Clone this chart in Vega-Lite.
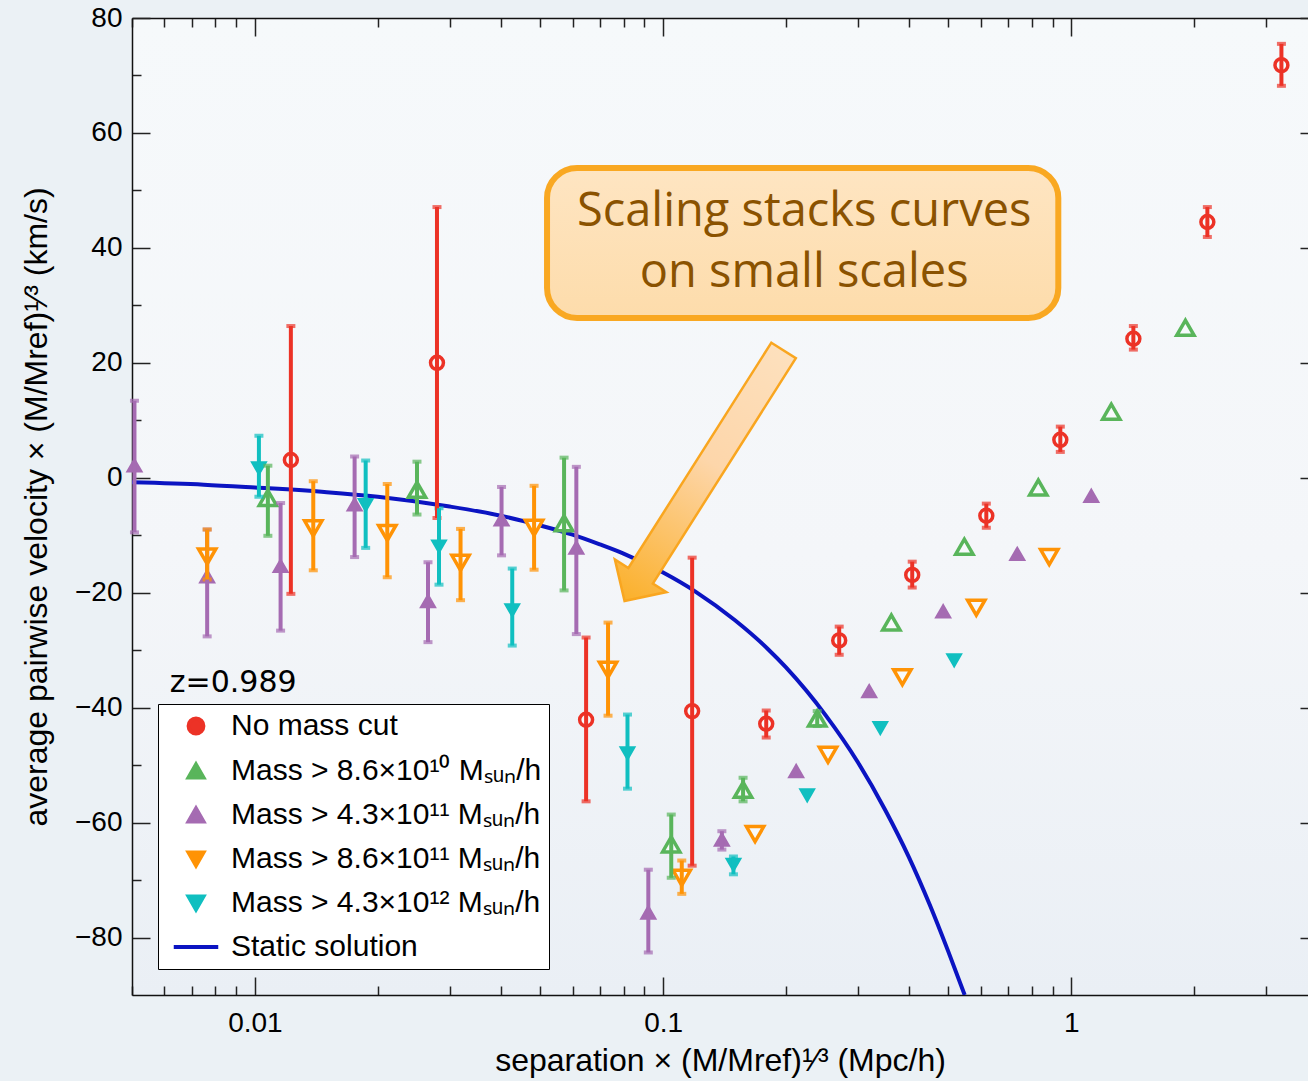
{
  "$schema": "https://vega.github.io/schema/vega-lite/v6.json",
  "width": 1176,
  "height": 977,
  "autosize": {"type": "none"},
  "padding": {"left": 132, "top": 18, "right": 0, "bottom": 86},
  "background": "#ebf1f5",
  "config": {
    "view": {"stroke": null, "fill": {"gradient": "linear", "x1": 0, "y1": 0, "x2": 0, "y2": 1,
      "stops": [{"offset": 0, "color": "#f6f9fb"}, {"offset": 0.55, "color": "#f4f6f9"}, {"offset": 1, "color": "#eaeff5"}]}},
    "font": "Liberation Sans",
    "axis": {"labelFont": "Liberation Sans", "titleFont": "Liberation Sans", "grid": false}
  },
  "datasets": {
    "pts": [
      {"series": "No mass cut", "r": 0.01225, "v": 3.1, "lo": -20.2, "hi": 26.4},
      {"series": "No mass cut", "r": 0.02793, "v": 20.0, "lo": -7.0, "hi": 47.1},
      {"series": "No mass cut", "r": 0.06477, "v": -42.1, "lo": -56.3, "hi": -27.8},
      {"series": "No mass cut", "r": 0.1178, "v": -40.6, "lo": -67.5, "hi": -13.9},
      {"series": "No mass cut", "r": 0.1789, "v": -42.8, "lo": -45.2, "hi": -40.5},
      {"series": "No mass cut", "r": 0.27, "v": -28.3, "lo": -30.8, "hi": -25.9},
      {"series": "No mass cut", "r": 0.4076, "v": -16.9, "lo": -19.1, "hi": -14.6},
      {"series": "No mass cut", "r": 0.6191, "v": -6.6, "lo": -8.7, "hi": -4.5},
      {"series": "No mass cut", "r": 0.9398, "v": 6.6, "lo": 4.5, "hi": 8.9},
      {"series": "No mass cut", "r": 1.419, "v": 24.2, "lo": 22.3, "hi": 26.4},
      {"series": "No mass cut", "r": 2.154, "v": 44.5, "lo": 41.9, "hi": 47.1},
      {"series": "No mass cut", "r": 3.271, "v": 71.8, "lo": 68.2, "hi": 75.5},
      {"series": "Mass > 8.6×10¹⁰ Mₛᵤₙ/h", "r": 0.01076, "v": -3.5, "lo": -10.1, "hi": 2.1},
      {"series": "Mass > 8.6×10¹⁰ Mₛᵤₙ/h", "r": 0.02495, "v": -2.1, "lo": -6.4, "hi": 2.8},
      {"series": "Mass > 8.6×10¹⁰ Mₛᵤₙ/h", "r": 0.0572, "v": -7.9, "lo": -19.6, "hi": 3.5},
      {"series": "Mass > 8.6×10¹⁰ Mₛᵤₙ/h", "r": 0.1047, "v": -63.8, "lo": -69.6, "hi": -58.6},
      {"series": "Mass > 8.6×10¹⁰ Mₛᵤₙ/h", "r": 0.157, "v": -54.3, "lo": -56.3, "hi": -52.2},
      {"series": "Mass > 8.6×10¹⁰ Mₛᵤₙ/h", "r": 0.2385, "v": -41.9, "lo": -43.2, "hi": -40.6},
      {"series": "Mass > 8.6×10¹⁰ Mₛᵤₙ/h", "r": 0.3623, "v": -25.2},
      {"series": "Mass > 8.6×10¹⁰ Mₛᵤₙ/h", "r": 0.547, "v": -12.0},
      {"series": "Mass > 8.6×10¹⁰ Mₛᵤₙ/h", "r": 0.83, "v": -1.7},
      {"series": "Mass > 8.6×10¹⁰ Mₛᵤₙ/h", "r": 1.253, "v": 11.5},
      {"series": "Mass > 8.6×10¹⁰ Mₛᵤₙ/h", "r": 1.903, "v": 26.1},
      {"series": "Mass > 4.3×10¹¹ Mₛᵤₙ/h", "r": 0.00507, "v": 2.1, "lo": -9.5, "hi": 13.4},
      {"series": "Mass > 4.3×10¹¹ Mₛᵤₙ/h", "r": 0.00764, "v": -17.2, "lo": -27.6, "hi": -9.0},
      {"series": "Mass > 4.3×10¹¹ Mₛᵤₙ/h", "r": 0.01156, "v": -15.4, "lo": -26.6, "hi": -4.4},
      {"series": "Mass > 4.3×10¹¹ Mₛᵤₙ/h", "r": 0.01755, "v": -4.7, "lo": -13.8, "hi": 3.7},
      {"series": "Mass > 4.3×10¹¹ Mₛᵤₙ/h", "r": 0.02655, "v": -21.5, "lo": -28.6, "hi": -14.7},
      {"series": "Mass > 4.3×10¹¹ Mₛᵤₙ/h", "r": 0.0402, "v": -7.3, "lo": -13.5, "hi": -1.6},
      {"series": "Mass > 4.3×10¹¹ Mₛᵤₙ/h", "r": 0.0613, "v": -12.2, "lo": -27.2, "hi": 1.9},
      {"series": "Mass > 4.3×10¹¹ Mₛᵤₙ/h", "r": 0.092, "v": -75.7, "lo": -82.6, "hi": -68.2},
      {"series": "Mass > 4.3×10¹¹ Mₛᵤₙ/h", "r": 0.1393, "v": -63.0, "lo": -64.7, "hi": -61.5},
      {"series": "Mass > 4.3×10¹¹ Mₛᵤₙ/h", "r": 0.2118, "v": -51.1},
      {"series": "Mass > 4.3×10¹¹ Mₛᵤₙ/h", "r": 0.3198, "v": -37.2},
      {"series": "Mass > 4.3×10¹¹ Mₛᵤₙ/h", "r": 0.4853, "v": -23.3},
      {"series": "Mass > 4.3×10¹¹ Mₛᵤₙ/h", "r": 0.7372, "v": -13.3},
      {"series": "Mass > 4.3×10¹¹ Mₛᵤₙ/h", "r": 1.119, "v": -3.2},
      {"series": "Mass > 8.6×10¹¹ Mₛᵤₙ/h", "r": 0.00764, "v": -13.7, "lo": -17.7, "hi": -9.0},
      {"series": "Mass > 8.6×10¹¹ Mₛᵤₙ/h", "r": 0.0139, "v": -8.8, "lo": -16.1, "hi": -0.6},
      {"series": "Mass > 8.6×10¹¹ Mₛᵤₙ/h", "r": 0.0211, "v": -9.6, "lo": -17.3, "hi": -1.1},
      {"series": "Mass > 8.6×10¹¹ Mₛᵤₙ/h", "r": 0.0319, "v": -14.8, "lo": -21.3, "hi": -8.9},
      {"series": "Mass > 8.6×10¹¹ Mₛᵤₙ/h", "r": 0.0483, "v": -8.7, "lo": -16.0, "hi": -1.4},
      {"series": "Mass > 8.6×10¹¹ Mₛᵤₙ/h", "r": 0.0733, "v": -33.4, "lo": -41.4, "hi": -25.2},
      {"series": "Mass > 8.6×10¹¹ Mₛᵤₙ/h", "r": 0.1111, "v": -69.6, "lo": -72.4, "hi": -66.6},
      {"series": "Mass > 8.6×10¹¹ Mₛᵤₙ/h", "r": 0.168, "v": -62.0},
      {"series": "Mass > 8.6×10¹¹ Mₛᵤₙ/h", "r": 0.2535, "v": -48.2},
      {"series": "Mass > 8.6×10¹¹ Mₛᵤₙ/h", "r": 0.3855, "v": -34.7},
      {"series": "Mass > 8.6×10¹¹ Mₛᵤₙ/h", "r": 0.585, "v": -22.6},
      {"series": "Mass > 8.6×10¹¹ Mₛᵤₙ/h", "r": 0.883, "v": -13.8},
      {"series": "Mass > 4.3×10¹² Mₛᵤₙ/h", "r": 0.01023, "v": 1.7, "lo": -3.3, "hi": 7.3},
      {"series": "Mass > 4.3×10¹² Mₛᵤₙ/h", "r": 0.01868, "v": -4.7, "lo": -12.2, "hi": 3.0},
      {"series": "Mass > 4.3×10¹² Mₛᵤₙ/h", "r": 0.02825, "v": -11.9, "lo": -18.6, "hi": -5.3},
      {"series": "Mass > 4.3×10¹² Mₛᵤₙ/h", "r": 0.0427, "v": -23.0, "lo": -29.2, "hi": -15.8},
      {"series": "Mass > 4.3×10¹² Mₛᵤₙ/h", "r": 0.0818, "v": -47.9, "lo": -54.1, "hi": -41.2},
      {"series": "Mass > 4.3×10¹² Mₛᵤₙ/h", "r": 0.1487, "v": -67.3, "lo": -69.0, "hi": -65.9},
      {"series": "Mass > 4.3×10¹² Mₛᵤₙ/h", "r": 0.2254, "v": -55.2},
      {"series": "Mass > 4.3×10¹² Mₛᵤₙ/h", "r": 0.3404, "v": -43.5},
      {"series": "Mass > 4.3×10¹² Mₛᵤₙ/h", "r": 0.5164, "v": -31.7}
    ],
    "curve": [
      {"r": 0.005, "v": -0.8}, {"r": 0.0075, "v": -1.2}, {"r": 0.01, "v": -1.7},
      {"r": 0.015, "v": -2.5}, {"r": 0.02, "v": -3.3}, {"r": 0.03, "v": -5.0},
      {"r": 0.04, "v": -6.6}, {"r": 0.05, "v": -8.3}, {"r": 0.06, "v": -9.9},
      {"r": 0.07, "v": -11.6}, {"r": 0.08, "v": -13.2}, {"r": 0.1, "v": -16.5},
      {"r": 0.12, "v": -19.8}, {"r": 0.15, "v": -24.8}, {"r": 0.18, "v": -29.7},
      {"r": 0.2, "v": -33.0}, {"r": 0.25, "v": -41.3}, {"r": 0.3, "v": -49.5},
      {"r": 0.35, "v": -57.8}, {"r": 0.4, "v": -66.0}, {"r": 0.45, "v": -74.3},
      {"r": 0.5, "v": -82.5}, {"r": 0.548, "v": -90.0}
    ],
    "box": [{"r1": 0.05196, "r2": 0.9292, "v1": 53.9, "v2": 27.8}],
    "callout": [
      {"r": 0.2216, "v": 43.83, "text": "Scaling stacks curves\non small scales"}
    ],
    "arrow": [{"r": 0.126, "v": 0.35}],
    "label": [{"r": 0.00619, "v": -37.2, "text": "z=0.989"}]
  },
  "layer": [
    {
      "mark": {"type": "rule", "color": "#6c6c6c", "strokeWidth": 4},
      "encoding": {
        "y": {"datum": 0, "type": "quantitative", "scale": {"domain": [-90, 80], "nice": false, "zero": false}, "axis": null}
      }
    },
    {
      "data": {"name": "box"},
      "mark": {"type": "rect", "cornerRadius": 30, "stroke": "#f9a822", "strokeWidth": 6,
        "fill": {"gradient": "linear", "x1": 0, "y1": 0, "x2": 0, "y2": 1, "stops": [{"offset": 0, "color": "#fee5c2"}, {"offset": 1, "color": "#fddcab"}]}},
      "encoding": {
        "x": {"field": "r1", "type": "quantitative", "scale": {"type": "log", "domain": [0.005, 3.8], "nice": false}, "axis": null},
        "x2": {"field": "r2"},
        "y": {"field": "v1", "type": "quantitative", "scale": {"domain": [-90, 80], "nice": false, "zero": false}, "axis": null},
        "y2": {"field": "v2"}
      }
    },
    {
      "data": {"name": "callout"},
      "mark": {"type": "text", "font": "Open Sans", "fontSize": 47, "color": "#8a5200", "align": "center", "baseline": "alphabetic", "lineBreak": "\n", "lineHeight": 61},
      "encoding": {
        "x": {"field": "r", "type": "quantitative", "scale": {"type": "log", "domain": [0.005, 3.8], "nice": false}, "axis": null},
        "y": {"field": "v", "type": "quantitative", "scale": {"domain": [-90, 80], "nice": false, "zero": false}, "axis": null},
        "text": {"field": "text"}
      }
    },
    {
      "data": {"name": "curve"},
      "mark": {"type": "line", "color": "#0b14c2", "strokeWidth": 4, "interpolate": "monotone", "clip": true},
      "encoding": {
        "x": {"field": "r", "type": "quantitative", "scale": {"type": "log", "domain": [0.005, 3.8], "nice": false}, "axis": null},
        "y": {"field": "v", "type": "quantitative", "scale": {"domain": [-90, 80], "nice": false, "zero": false}, "axis": null}
      }
    },
    {
      "data": {"name": "pts"},
      "mark": {"type": "point", "filled": false, "strokeWidth": 3.5, "opacity": 1},
      "encoding": {
        "x": {"field": "r", "type": "quantitative", "scale": {"type": "log", "domain": [0.005, 3.8], "nice": false},
          "axis": {"orient": "bottom",
            "values": [0.005, 0.006, 0.007, 0.008, 0.009, 0.01, 0.02, 0.03, 0.04, 0.05, 0.06, 0.07, 0.08, 0.09, 0.1, 0.2, 0.3, 0.4, 0.5, 0.6, 0.7, 0.8, 0.9, 1, 2, 3],
            "format": "~g",
            "labelExpr": "indexof([0.01, 0.1, 1], datum.value) >= 0 ? datum.label : ''",
            "tickSize": {"condition": {"test": "indexof([0.01, 0.1, 1], datum.value) >= 0", "value": -18}, "value": -9},
            "tickColor": "#222222", "tickWidth": 1.5, "domainColor": "#111111", "domainWidth": 1.5,
            "labelFontSize": 28, "labelColor": "black", "labelPadding": 32, "labelOverlap": false, "labelFlush": false,
            "title": "separation × (M/Mref)¹⁄³ (Mpc/h)", "titleFontSize": 32, "titleFontWeight": "normal", "titleColor": "black", "titlePadding": -1}},
        "y": {"field": "v", "type": "quantitative", "scale": {"domain": [-90, 80], "nice": false, "zero": false},
          "axis": {"orient": "left",
            "values": [-80, -70, -60, -50, -40, -30, -20, -10, 0, 10, 20, 30, 40, 50, 60, 70, 80],
            "labelExpr": "datum.value % 20 == 0 ? datum.label : ''",
            "tickSize": {"condition": {"test": "datum.value % 20 == 0", "value": -18}, "value": -9},
            "tickColor": "#222222", "tickWidth": 1.5, "domainColor": "#111111", "domainWidth": 1.5,
            "labelFontSize": 28, "labelColor": "black", "labelPadding": 28, "labelOverlap": false, "labelFlush": false,
            "title": "average pairwise velocity × (M/Mref)¹⁄³ (km/s)", "titleFontSize": 32, "titleFontWeight": "normal", "titleColor": "black", "titlePadding": 21}},
        "color": {"field": "series", "type": "nominal",
          "scale": {"domain": ["No mass cut", "Mass > 8.6×10¹⁰ Mₛᵤₙ/h", "Mass > 4.3×10¹¹ Mₛᵤₙ/h", "Mass > 8.6×10¹¹ Mₛᵤₙ/h", "Mass > 4.3×10¹² Mₛᵤₙ/h", "Static solution"],
                    "range": ["#ec3226", "#59b55b", "#a56bb2", "#ff9305", "#10bfc0", "#0b14c2"]},
          "legend": {"orient": "none", "legendX": 26, "legendY": 686, "title": null, "fillColor": "white", "strokeColor": "black",
            "padding": 7, "labelFontSize": 30, "labelFont": "Liberation Sans", "labelColor": "black", "labelLimit": 800,
            "symbolSize": 220, "symbolStrokeWidth": 4, "symbolOpacity": 1, "rowPadding": 14, "symbolOffset": 16, "labelOffset": 20,
            "encode": {"symbols": {
              "fill": {"scale": "fill", "field": "value"},
              "stroke": {"scale": "color", "field": "value"},
              "opacity": {"value": 1},
              "strokeWidth": {"value": 4}}}}},
        "shape": {"field": "series", "type": "nominal",
          "scale": {"domain": ["No mass cut", "Mass > 8.6×10¹⁰ Mₛᵤₙ/h", "Mass > 4.3×10¹¹ Mₛᵤₙ/h", "Mass > 8.6×10¹¹ Mₛᵤₙ/h", "Mass > 4.3×10¹² Mₛᵤₙ/h", "Static solution"],
                    "range": ["circle", "triangle-up", "triangle-up", "triangle-down", "triangle-down", "M-3,0L3,0"]}},
        "fill": {"field": "series", "type": "nominal",
          "scale": {"domain": ["No mass cut", "Mass > 8.6×10¹⁰ Mₛᵤₙ/h", "Mass > 4.3×10¹¹ Mₛᵤₙ/h", "Mass > 8.6×10¹¹ Mₛᵤₙ/h", "Mass > 4.3×10¹² Mₛᵤₙ/h", "Static solution"],
                    "range": ["#f7fafc", "#f7fafc", "#a56bb2", "#f7fafc", "#10bfc0", "transparent"]}},
        "size": {"condition": [
            {"test": "datum.series == 'No mass cut'", "value": 167},
            {"test": "indexof(datum.series, '4.3×10¹¹') >= 0", "value": 137},
            {"test": "indexof(datum.series, '4.3×10¹²') >= 0", "value": 130}
          ], "value": 300}
      }
    },
    {
      "data": {"name": "pts"},
      "transform": [{"filter": "isValid(datum.lo)"}],
      "mark": {"type": "errorbar", "thickness": 4, "ticks": {"size": 9, "thickness": 4}},
      "encoding": {
        "x": {"field": "r", "type": "quantitative", "scale": {"type": "log", "domain": [0.005, 3.8], "nice": false}, "axis": null},
        "y": {"field": "lo", "type": "quantitative", "scale": {"domain": [-90, 80], "nice": false, "zero": false}, "axis": null},
        "y2": {"field": "hi"},
        "color": {"field": "series", "type": "nominal",
          "scale": {"domain": ["No mass cut", "Mass > 8.6×10¹⁰ Mₛᵤₙ/h", "Mass > 4.3×10¹¹ Mₛᵤₙ/h", "Mass > 8.6×10¹¹ Mₛᵤₙ/h", "Mass > 4.3×10¹² Mₛᵤₙ/h", "Static solution"],
                    "range": ["#ec3226", "#59b55b", "#a56bb2", "#ff9305", "#10bfc0", "#0b14c2"]}}
      }
    },
    {
      "data": {"name": "arrow"},
      "mark": {"type": "point", "shape": "M-0.0977,-1L0.0977,-1L0.0977,0.798L0.2055,0.798L0,1L-0.2055,0.798L-0.0977,0.798Z",
        "size": 88090, "angle": 32.4, "filled": true, "opacity": 1, "stroke": "#f9a620", "strokeWidth": 2.5,
        "fill": {"gradient": "linear", "x1": 0, "y1": 0, "x2": 0, "y2": 1, "stops": [{"offset": 0, "color": "#fde0bd"}, {"offset": 0.45, "color": "#fdd6aa"}, {"offset": 1, "color": "#fbb02a"}]}},
      "encoding": {
        "x": {"field": "r", "type": "quantitative", "scale": {"type": "log", "domain": [0.005, 3.8], "nice": false}, "axis": null},
        "y": {"field": "v", "type": "quantitative", "scale": {"domain": [-90, 80], "nice": false, "zero": false}, "axis": null}
      }
    },
    {
      "data": {"name": "label"},
      "mark": {"type": "text", "font": "DejaVu Sans", "fontSize": 30, "color": "black", "align": "left", "baseline": "alphabetic"},
      "encoding": {
        "x": {"field": "r", "type": "quantitative", "scale": {"type": "log", "domain": [0.005, 3.8], "nice": false},
          "axis": {"orient": "top", "values": [0.005, 0.006, 0.007, 0.008, 0.009, 0.01, 0.02, 0.03, 0.04, 0.05, 0.06, 0.07, 0.08, 0.09, 0.1, 0.2, 0.3, 0.4, 0.5, 0.6, 0.7, 0.8, 0.9, 1, 2, 3],
            "labels": false, "title": null,
            "tickSize": {"condition": {"test": "indexof([0.01, 0.1, 1], datum.value) >= 0", "value": -18}, "value": -9},
            "tickColor": "#222222", "tickWidth": 1.5, "domainColor": "#111111", "domainWidth": 1.5}},
        "y": {"field": "v", "type": "quantitative", "scale": {"domain": [-90, 80], "nice": false, "zero": false},
          "axis": {"orient": "right", "values": [-80, -60, -40, -20, 0, 20, 40, 60, 80], "labels": false, "title": null, "domain": false,
            "tickSize": -8, "tickColor": "#222222", "tickWidth": 1.5}},
        "text": {"field": "text"}
      }
    }
  ],
  "resolve": {"axis": {"x": "independent", "y": "independent"}}
}
